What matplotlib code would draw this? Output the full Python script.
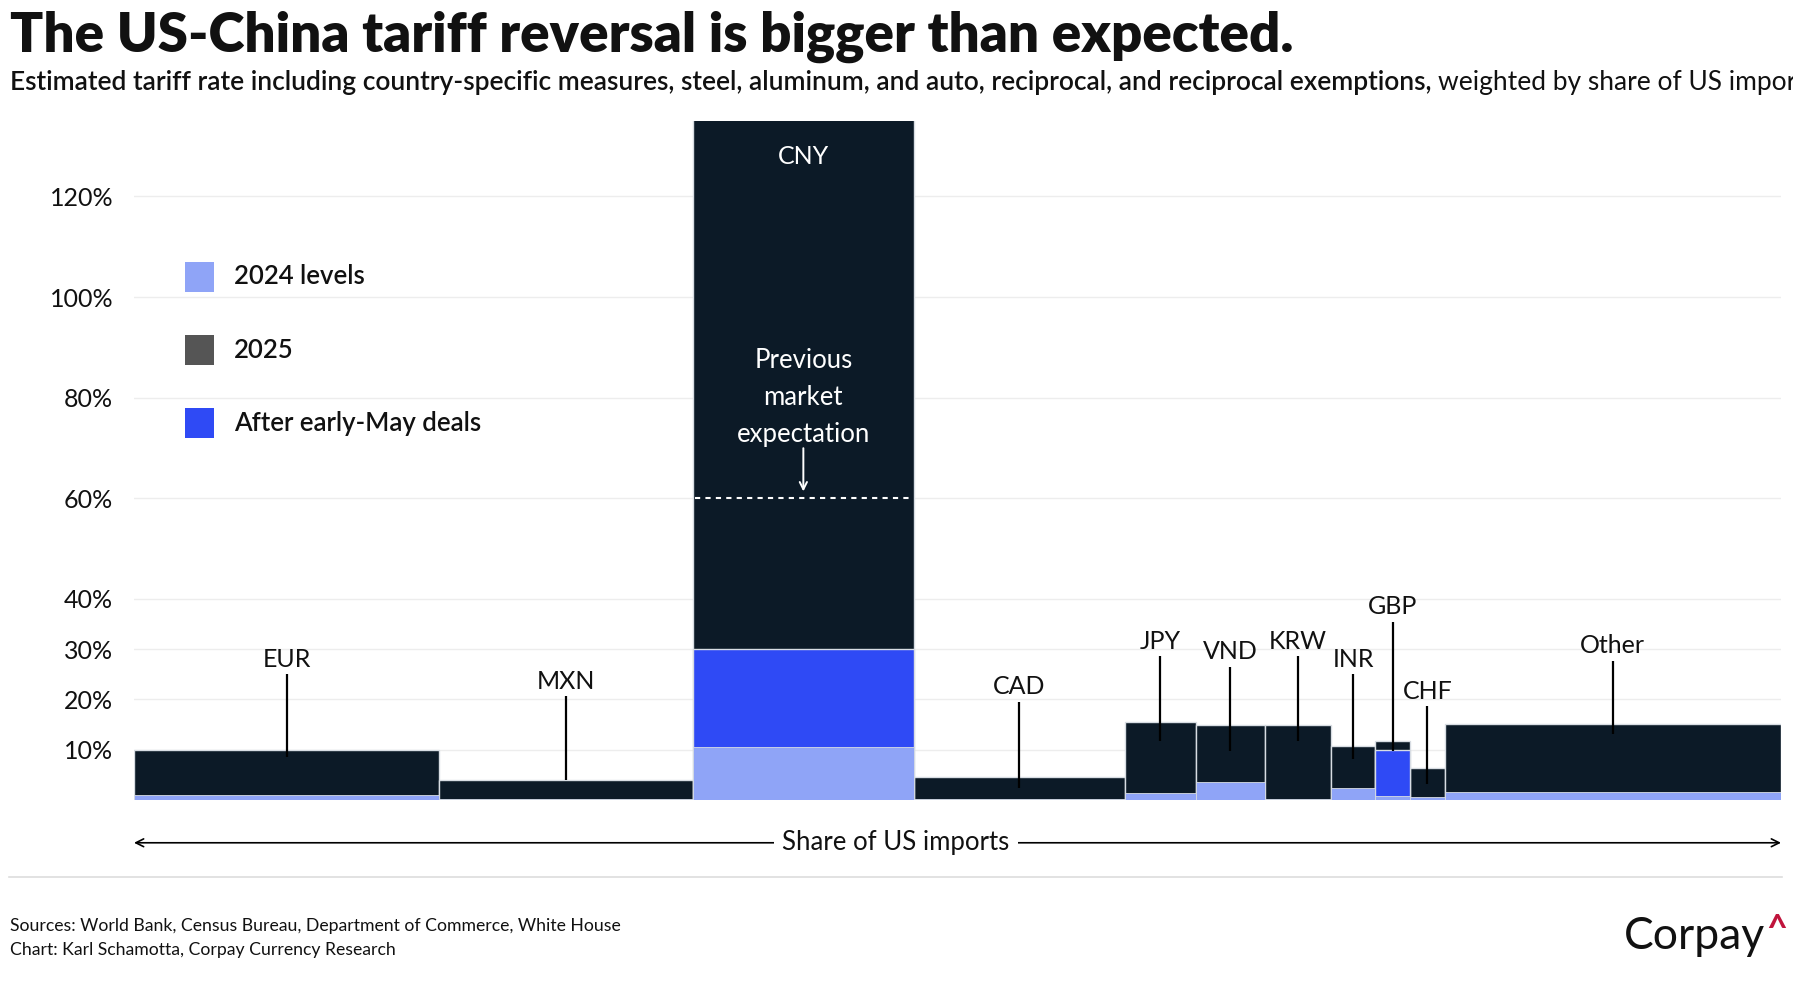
import matplotlib
matplotlib.use("Agg")
import matplotlib.pyplot as plt
from matplotlib.patches import Rectangle
import numpy as np

plt.rcParams['font.family'] = ['Lato', 'DejaVu Sans']

# ---- data ----
currencies = ["EUR", "MXN", "CNY", "CAD", "JPY", "VND", "KRW", "INR", "GBP", "CHF", "Other"]
import_share = [18.5, 15.4, 13.4, 12.8, 4.3, 4.2, 4.0, 2.7, 2.1, 2.1, 20.4]
tariff_2024 = [1.0, 0.2, 10.5, 0.2, 1.3, 3.5, 0.1, 2.3, 0.8, 0.5, 1.5]
tariff_2025 = [10.0, 4.0, 145.0, 4.5, 15.5, 15.0, 15.0, 10.8, 11.8, 6.3, 15.2]
tariff_after_deals = [None, None, 30.0, None, None, None, None, None, 10.0, None, None]
previous_expectation_cny = 60.0
ytick_values = [10, 20, 30, 40, 60, 80, 100, 120]
ytick_labels = ["10%", "20%", "30%", "40%", "60%", "80%", "100%", "120%"]

# label layout (text centre height and leader-line bottom, in axis units)
label_text_y = [28, 23.6, None, 22.5, 31.6, 29.5, 31.6, 28, 38.4, 21.6, 30.7]
label_line_bottom = [8.6, 3.9, None, 2.3, 11.8, 9.8, 11.8, 8.2, 9.8, 3.2, 13.2]

DARK = "#0C1A27"
LIGHT = "#8FA4F7"
BLUE = "#2F4AF5"
LEG_DARK = "#555555"

W, H = 1793, 1000
fig = plt.figure(figsize=(W / 100, H / 100), dpi=100)

def fx(px):
    return px / W

def fy(py):
    return 1 - py / H

ax = fig.add_axes([fx(134), 0.2, (1781 - 134) / W, 679 / H])

lefts = np.concatenate([[0], np.cumsum(import_share)[:-1]])
total = float(np.sum(import_share))

ax.bar(lefts, tariff_2025, width=import_share, align="edge", color=DARK, zorder=2,
       edgecolor="#d8dde3", linewidth=1.0)
after_vals = [v if v is not None else 0 for v in tariff_after_deals]
ax.bar(lefts, after_vals, width=import_share, align="edge", color=BLUE, zorder=3,
       edgecolor=["#d8dde3" if v else "none" for v in tariff_after_deals], linewidth=1.0)
ax.bar(lefts, tariff_2024, width=import_share, align="edge", color=LIGHT, zorder=4,
       edgecolor="#d8dde3", linewidth=0.6)

ax.set_xlim(0, total)
ax.set_ylim(0, 135)
ax.set_yticks(ytick_values)
ax.set_yticklabels(ytick_labels)
ax.set_xticks([])
ax.tick_params(axis="y", length=0, pad=15, labelsize=18, labelcolor="#111111")
for s in ax.spines.values():
    s.set_visible(False)
ax.yaxis.grid(True, color="#ededed", linewidth=1.0, zorder=0)
ax.set_axisbelow(True)

# labels with leader lines
for i, cur in enumerate(currencies):
    cx = lefts[i] + import_share[i] / 2
    if cur == "CNY":
        ax.text(cx, 128, "CNY", color="white", fontsize=18, ha="center", va="center", zorder=6)
        continue
    ty = label_text_y[i]
    ax.text(cx, ty, cur, color="#111111", fontsize=18, ha="center", va="center", zorder=6)
    ax.plot([cx, cx], [ty - 3.0, label_line_bottom[i]], color="black", lw=1.6, zorder=6,
            solid_capstyle="butt")

# CNY annotation
ci = currencies.index("CNY")
cx = lefts[ci] + import_share[ci] / 2
ax.plot([lefts[ci] + 0.1, lefts[ci] + import_share[ci] - 0.1],
        [previous_expectation_cny] * 2, color="white", lw=1.5, ls=(0, (2.5, 2.5)), zorder=6)
ax.text(cx, 80, "Previous\nmarket\nexpectation", color="white", fontsize=18.5,
        ha="center", va="center", linespacing=1.6, zorder=6)
ax.annotate("", xy=(cx, previous_expectation_cny + 0.8), xytext=(cx, 70.5),
            arrowprops=dict(arrowstyle="->", color="white", lw=1.4, mutation_scale=13), zorder=6)

# x-axis arrow
xt = ax.get_xaxis_transform()
ax.annotate("", xy=(total, -0.063), xytext=(0, -0.063), xycoords=xt, textcoords=xt,
            arrowprops=dict(arrowstyle="<->", color="black", lw=1.2, mutation_scale=14,
                            shrinkA=0, shrinkB=0), annotation_clip=False)
ax.text(0.5 * total - 3.75, -0.063, "Share of US imports", transform=xt, fontsize=18.5,
        ha="center", va="center", color="#111111",
        bbox=dict(facecolor="white", edgecolor="none", pad=6))

# legend (manual)
leg_items = [("2024 levels", LIGHT), ("2025", LEG_DARK), ("After early-May deals", BLUE)]
for k, (lab, col) in enumerate(leg_items):
    yc = 277 + 73 * k
    fig.add_artist(Rectangle((fx(185), fy(yc + 15)), 29 / W, 30 / H,
                             transform=fig.transFigure, facecolor=col, edgecolor="none"))
    fig.text(fx(234), fy(yc), lab, fontsize=18.5, fontweight="semibold", va="center",
             ha="left", color="#111111")

# titles
fig.text(fx(10), fy(52), "The US-China tariff reversal is bigger than expected.",
         fontsize=39.3, fontweight="heavy", ha="left", va="baseline", color="#111111")
t1 = fig.text(fx(10), fy(90),
              "Estimated tariff rate including country-specific measures, steel, aluminum, and auto, reciprocal, and reciprocal exemptions,",
              fontsize=19, fontweight="semibold", ha="left", va="baseline", color="#111111")
fig.canvas.draw()
bb = t1.get_window_extent()
fig.text(bb.x1 / W + fx(7), fy(90), "weighted by share of US imports",
         fontsize=19, ha="left", va="baseline", color="#111111")

# separator
fig.add_artist(plt.Line2D([fx(9), fx(1782)], [fy(877), fy(877)], color="#dddddd", lw=1.2,
                          transform=fig.transFigure))

# footer
fig.text(fx(10), fy(931), "Sources: World Bank, Census Bureau, Department of Commerce, White House",
         fontsize=12.7, ha="left", va="baseline", color="#111111")
fig.text(fx(10), fy(955), "Chart: Karl Schamotta, Corpay Currency Research",
         fontsize=12.7, ha="left", va="baseline", color="#111111")

c = fig.text(fx(1624), fy(949), "Corpay", fontsize=32, ha="left", va="baseline", color="#111111")
fig.canvas.draw()
cb = c.get_window_extent()
fig.text(cb.x1 / W + fx(1), fy(930), "^", fontsize=26, fontweight="bold", ha="left",
         va="center", color="#C0143C")

fig.savefig("out.png", dpi=100, facecolor="white")
